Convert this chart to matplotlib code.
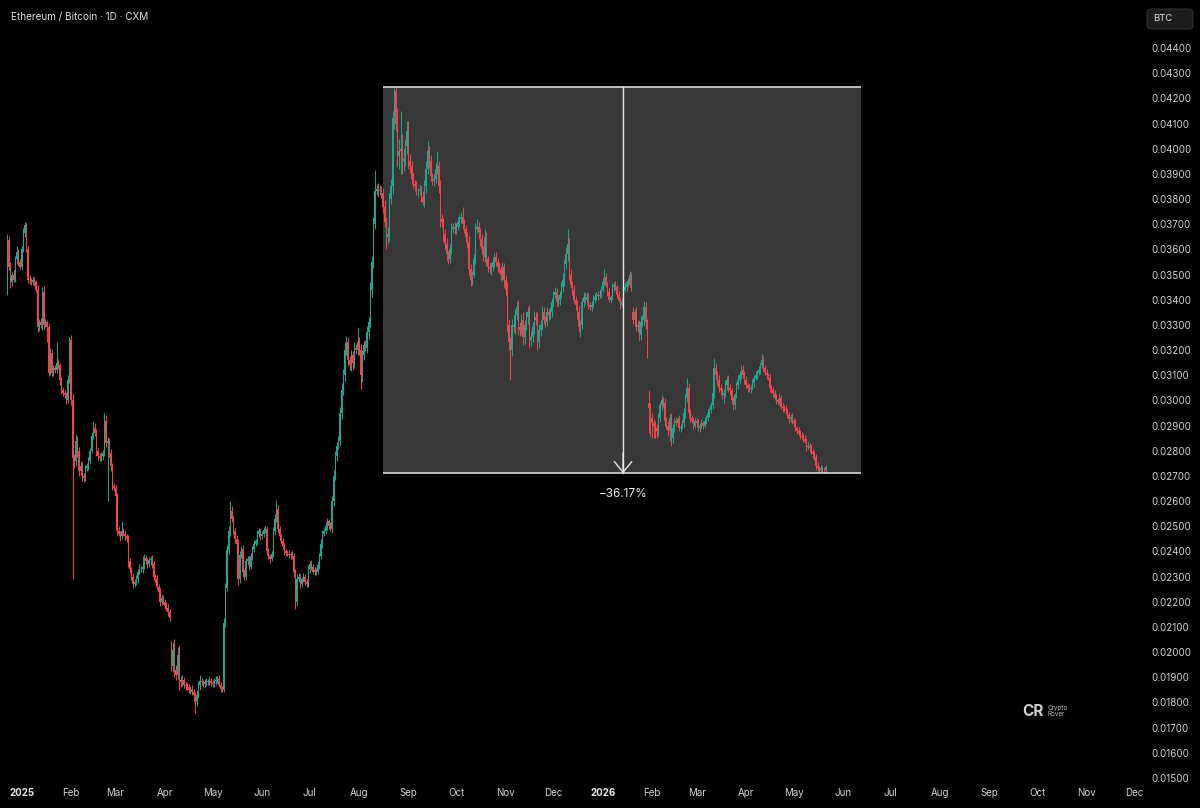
import datetime as dt
import numpy as np
import matplotlib
matplotlib.use("Agg")
import matplotlib.pyplot as plt
import matplotlib.dates as mdates
from matplotlib.patches import Rectangle, FancyBboxPatch, FancyArrowPatch

# ---------------- DATA (prices in units of 0.00001 BTC) ----------------
start_date = dt.date(2024, 12, 23)
first_open = 3430
gap_opens = {dt.date(2025, 4, 5): 2035, dt.date(2026, 1, 20): 3350, dt.date(2026, 1, 30): 2990}

close_2024_12 = [3637, 3530, 3470, 3500, 3480, 3560, 3590, 3550, 3530]
upw_2024_12 = [23, 15, 20, 12, 18, 15, 25, 10, 12]
low_2024_12 = [10, 12, 25, 15, 10, 8, 20, 15, 10]

close_2025_01 = [3600, 3665, 3697, 3600, 3480, 3478, 3470, 3480, 3470, 3440, 3290, 3310, 3300, 3430, 3300, 3310,
                 3290, 3110, 3190, 3110, 3130, 3120, 3150, 3140, 3080, 3040, 3030, 3020, 3000, 3080, 3240]
upw_2025_01 = [15, 20, 10, 8, 15, 20, 10, 15, 12, 10, 20, 15, 18, 20, 25, 15, 10, 15, 20, 15, 10, 12, 80, 15, 10,
               12, 15, 10, 15, 20, 10]
low_2025_01 = [12, 10, 15, 10, 12, 15, 10, 12, 15, 10, 20, 15, 12, 20, 15, 10, 60, 15, 10, 15, 12, 10, 12, 15, 20,
               15, 12, 10, 15, 12, 10]

close_2025_02 = [3000, 2770, 2760, 2840, 2800, 2720, 2740, 2700, 2690, 2730, 2740, 2760, 2800, 2860, 2890, 2870,
                 2800, 2780, 2770, 2780, 2790, 2920, 2830, 2840, 2790, 2740, 2660, 2650]
upw_2025_02 = [20, 30, 15, 25, 20, 15, 20, 15, 10, 15, 12, 15, 10, 15, 30, 20, 15, 12, 10, 15, 12, 30, 20, 15, 10,
               15, 12, 10]
low_2025_02 = [20, 480, 30, 20, 25, 20, 15, 20, 15, 12, 10, 15, 12, 10, 15, 12, 20, 15, 12, 10, 15, 12, 15, 230,
               15, 20, 15, 12]

close_2025_03 = [2620, 2480, 2470, 2460, 2480, 2470, 2460, 2450, 2360, 2330, 2300, 2270, 2280, 2290, 2320, 2330,
                 2330, 2340, 2375, 2360, 2350, 2365, 2370, 2350, 2300, 2290, 2258, 2240, 2200, 2215, 2200]
upw_2025_03 = [15, 12, 20, 10, 40, 12, 15, 10, 15, 12, 10, 15, 12, 15, 10, 20, 12, 40, 15, 10, 15, 12, 10, 15, 12,
               10, 15, 12, 15, 10, 12]
low_2025_03 = [12, 15, 10, 20, 12, 10, 15, 12, 20, 15, 12, 15, 10, 12, 15, 10, 12, 15, 10, 12, 15, 10, 20, 15, 12,
               15, 10, 12, 15, 12, 10]

close_2025_04 = [2185, 2175, 2160, 2135, 1945, 2010, 1930, 1910, 1990, 1890, 1880, 1890, 1870, 1865, 1860, 1850,
                 1855, 1840, 1830, 1800, 1830, 1870, 1885, 1880, 1875, 1880, 1885, 1880, 1885, 1878]
upw_2025_04 = [10, 12, 15, 10, 10, 30, 40, 20, 30, 40, 15, 20, 12, 10, 15, 12, 10, 15, 12, 10, 20, 15, 25, 12, 10,
               15, 12, 10, 15, 12]
low_2025_04 = [12, 10, 15, 12, 20, 25, 30, 20, 15, 40, 20, 15, 12, 15, 10, 12, 15, 10, 12, 42, 15, 12, 20, 10, 12,
               15, 10, 12, 10, 12]

close_2025_05 = [1872, 1885, 1890, 1895, 1870, 1855, 1850, 2115, 2255, 2405, 2480, 2560, 2530, 2480, 2450, 2430,
                 2290, 2385, 2410, 2320, 2300, 2360, 2370, 2340, 2380, 2410, 2430, 2440, 2470, 2480, 2460]
upw_2025_05 = [10, 12, 15, 10, 12, 10, 12, 20, 20, 20, 20, 40, 20, 15, 12, 15, 20, 15, 12, 15, 12, 15, 12, 10, 15,
               12, 15, 10, 15, 12, 10]
low_2025_05 = [12, 10, 15, 12, 10, 15, 10, 10, 15, 12, 15, 20, 15, 12, 15, 20, 25, 15, 12, 20, 15, 12, 15, 12, 10,
               15, 12, 10, 15, 12, 15]

close_2025_06 = [2470, 2485, 2490, 2400, 2380, 2370, 2390, 2480, 2530, 2570, 2490, 2460, 2440, 2420, 2400, 2395,
                 2390, 2385, 2390, 2380, 2320, 2200, 2290, 2300, 2270, 2290, 2300, 2280, 2270, 2330]
upw_2025_06 = [12, 10, 15, 12, 15, 10, 12, 15, 20, 35, 15, 12, 10, 15, 12, 10, 12, 15, 10, 12, 15, 12, 20, 15, 12,
               10, 15, 12, 10, 15]
low_2025_06 = [10, 12, 10, 15, 12, 15, 10, 12, 15, 12, 15, 10, 12, 10, 15, 12, 10, 12, 15, 10, 20, 30, 15, 12, 15,
               10, 12, 15, 12, 10]

close_2025_07 = [2350, 2340, 2320, 2325, 2320, 2345, 2380, 2430, 2470, 2480, 2500, 2520, 2500, 2490, 2600, 2700,
                 2780, 2820, 2840, 2950, 3040, 3100, 3200, 3230, 3160, 3140, 3180, 3150, 3210, 3200, 3230]
upw_2025_07 = [12, 15, 10, 12, 10, 15, 12, 20, 15, 12, 15, 12, 10, 15, 20, 25, 20, 15, 20, 25, 30, 25, 30, 25, 20,
               15, 20, 15, 20, 15, 58]
low_2025_07 = [15, 12, 10, 15, 12, 10, 15, 12, 15, 10, 12, 15, 12, 10, 15, 20, 15, 20, 15, 20, 25, 20, 25, 20, 25,
               20, 25, 30, 20, 15, 20]

close_2025_08 = [3200, 3100, 3180, 3220, 3210, 3270, 3310, 3440, 3550, 3700, 3830, 3840, 3830, 3835, 3825, 3770,
                 3710, 3650, 3660, 3800, 3850, 4120, 4230, 4100, 3970, 3990, 4000, 3950, 3960, 4010, 4070]
upw_2025_08 = [20, 25, 20, 15, 20, 25, 20, 30, 25, 30, 85, 20, 25, 20, 15, 20, 25, 20, 30, 25, 30, 30, 10, 15, 60,
               50, 150, 60, 40, 30, 40]
low_2025_08 = [20, 60, 25, 20, 15, 20, 25, 20, 30, 25, 20, 15, 20, 15, 20, 25, 20, 50, 30, 25, 20, 30, 40, 30, 40,
               50, 90, 50, 40, 30, 30]

close_2025_09 = [3950, 3930, 3880, 3860, 3850, 3830, 3830, 3835, 3810, 3790, 3850, 3920, 3990, 3950, 3890, 3870,
                 3880, 3920, 3930, 3850, 3720, 3710, 3660, 3620, 3580, 3560, 3600, 3680, 3690, 3680]
upw_2025_09 = [40, 30, 20, 25, 15, 20, 15, 20, 15, 20, 25, 30, 40, 20, 25, 15, 20, 25, 60, 20, 25, 20, 15, 20, 25,
               15, 20, 25, 15, 20]
low_2025_09 = [30, 25, 20, 15, 20, 15, 20, 15, 20, 15, 20, 25, 20, 25, 20, 15, 20, 15, 20, 25, 30, 20, 25, 20, 25,
               20, 15, 20, 15, 20]

close_2025_10 = [3690, 3710, 3720, 3730, 3700, 3680, 3650, 3630, 3520, 3480, 3500, 3560, 3680, 3690, 3670, 3640,
                 3600, 3570, 3650, 3560, 3530, 3520, 3530, 3550, 3570, 3550, 3530, 3520, 3500, 3530, 3480]
upw_2025_10 = [15, 20, 15, 20, 40, 20, 15, 20, 25, 20, 15, 20, 25, 30, 20, 15, 20, 15, 30, 20, 15, 20, 15, 20, 15,
               20, 15, 20, 15, 20, 15]
low_2025_10 = [20, 15, 20, 15, 20, 15, 20, 25, 20, 25, 20, 15, 20, 15, 20, 25, 20, 15, 20, 25, 20, 15, 20, 15, 20,
               15, 20, 15, 20, 25, 30]

close_2025_11 = [3440, 3300, 3230, 3200, 3300, 3290, 3340, 3370, 3290, 3280, 3320, 3250, 3300, 3330, 3350, 3240,
                 3250, 3290, 3330, 3320, 3230, 3280, 3300, 3350, 3320, 3310, 3350, 3340, 3350, 3390]
upw_2025_11 = [20, 30, 25, 20, 25, 20, 25, 20, 30, 20, 25, 30, 20, 25, 20, 30, 25, 20, 25, 20, 30, 25, 20, 25, 20,
               15, 20, 15, 20, 15]
low_2025_11 = [25, 30, 30, 120, 25, 20, 25, 20, 30, 25, 20, 30, 25, 20, 25, 30, 25, 20, 25, 20, 30, 20, 25, 20, 15,
               20, 15, 20, 15, 20]

close_2025_12 = [3420, 3430, 3390, 3400, 3420, 3450, 3480, 3540, 3580, 3620, 3500, 3460, 3440, 3400, 3380, 3350,
                 3290, 3300, 3390, 3410, 3400, 3410, 3380, 3370, 3380, 3400, 3410, 3420, 3415, 3420, 3440]
upw_2025_12 = [15, 20, 15, 20, 15, 20, 25, 20, 30, 60, 25, 20, 15, 20, 15, 20, 25, 20, 15, 20, 15, 20, 15, 10, 15,
               20, 15, 10, 15, 10, 15]
low_2025_12 = [20, 15, 20, 15, 20, 15, 20, 25, 20, 25, 20, 15, 20, 15, 20, 25, 20, 40, 15, 20, 15, 20, 15, 10, 15,
               10, 15, 10, 15, 10, 15]

close_2026_01 = [3470, 3490, 3460, 3430, 3400, 3410, 3450, 3460, 3450, 3420, 3400, 3380, 3390, 3440, 3450, 3470,
                 3460, 3500, 3450, 3320, 3350, 3290, 3300, 3260, 3310, 3320, 3370, 3310, 3190, 2970, 2930]
upw_2026_01 = [15, 30, 15, 10, 15, 10, 15, 10, 15, 10, 15, 10, 15, 20, 15, 10, 15, 15, 10, 20, 15, 20, 15, 20, 25,
               20, 25, 20, 15, 50, 20]
low_2026_01 = [10, 15, 10, 15, 10, 15, 10, 15, 10, 15, 10, 15, 10, 15, 10, 15, 10, 10, 15, 15, 20, 15, 20, 25, 20,
               15, 20, 25, 20, 100, 70]

close_2026_02 = [2910, 2900, 2890, 2880, 2930, 2980, 3000, 2990, 2920, 2900, 2880, 2930, 2850, 2890, 2920, 2910,
                 2925, 2890, 2895, 2910, 2950, 3010, 3050, 2950, 2930, 2920, 2900, 2920]
upw_2026_02 = [20, 15, 20, 15, 20, 15, 20, 15, 20, 15, 20, 15, 20, 15, 10, 15, 10, 15, 10, 15, 20, 15, 40, 20, 15,
               10, 15, 10]
low_2026_02 = [60, 50, 40, 30, 20, 15, 20, 15, 20, 15, 20, 40, 30, 20, 15, 10, 15, 10, 15, 10, 15, 20, 15, 20, 15,
               10, 15, 10]

close_2026_03 = [2910, 2890, 2900, 2910, 2900, 2920, 2930, 2950, 2960, 2980, 3030, 3130, 3100, 3080, 3050, 3040,
                 3020, 3030, 3060, 3080, 3050, 3040, 3000, 2980, 3020, 3060, 3080, 3100, 3120, 3100, 3080]
upw_2026_03 = [10, 15, 10, 15, 10, 15, 10, 15, 10, 15, 20, 40, 20, 15, 20, 15, 10, 15, 20, 15, 20, 15, 10, 15, 10,
               15, 20, 15, 20, 20, 15]
low_2026_03 = [15, 10, 15, 10, 15, 10, 15, 10, 15, 10, 15, 20, 15, 20, 15, 20, 15, 30, 15, 20, 15, 20, 15, 20, 15,
               10, 15, 10, 15, 10, 15]

close_2026_04 = [3060, 3050, 3045, 3050, 3070, 3090, 3100, 3110, 3120, 3140, 3160, 3130, 3110, 3100, 3090, 3050,
                 3040, 3030, 3010, 3000, 2995, 3010, 2975, 2970, 2965, 2960, 2940, 2925, 2935, 2920]
upw_2026_04 = [15, 10, 15, 10, 15, 10, 15, 10, 15, 10, 30, 15, 10, 15, 10, 15, 10, 15, 10, 15, 10, 15, 10, 15, 10,
               15, 10, 15, 10, 15]
low_2026_04 = [10, 15, 10, 15, 10, 15, 10, 15, 10, 15, 10, 15, 10, 15, 10, 15, 10, 15, 10, 15, 10, 15, 10, 15, 10,
               15, 10, 15, 10, 15]

close_2026_05 = [2910, 2890, 2880, 2872, 2860, 2855, 2848, 2840, 2815, 2820, 2810, 2795, 2785, 2775, 2740, 2730,
                 2725, 2730, 2725, 2723, 2735]
upw_2026_05 = [10, 15, 10, 15, 10, 15, 10, 15, 10, 15, 10, 15, 10, 15, 10, 15, 10, 15, 10, 12, 10]
low_2026_05 = [15, 10, 15, 10, 15, 10, 15, 10, 15, 10, 15, 10, 15, 10, 15, 10, 10, 8, 10, 10, 12]

price_ticks = [0.015, 0.016, 0.017, 0.018, 0.019, 0.020, 0.021, 0.022, 0.023, 0.024, 0.025, 0.026, 0.027, 0.028,
               0.029, 0.030, 0.031, 0.032, 0.033, 0.034, 0.035, 0.036, 0.037, 0.038, 0.039, 0.040, 0.041, 0.042,
               0.043, 0.044]
month_labels = ["2025", "Feb", "Mar", "Apr", "May", "Jun", "Jul", "Aug", "Sep", "Oct", "Nov", "Dec",
                "2026", "Feb", "Mar", "Apr", "May", "Jun", "Jul", "Aug", "Sep", "Oct", "Nov", "Dec"]

# measure tool (price range drawing)
range_top = 0.04245
range_bottom = 0.02710
range_label = "\u221236.17%"

# ---------------- BUILD OHLC ----------------
closes_all = (close_2024_12 + close_2025_01 + close_2025_02 + close_2025_03 + close_2025_04 + close_2025_05 +
              close_2025_06 + close_2025_07 + close_2025_08 + close_2025_09 + close_2025_10 + close_2025_11 +
              close_2025_12 + close_2026_01 + close_2026_02 + close_2026_03 + close_2026_04 + close_2026_05)
upw_all = (upw_2024_12 + upw_2025_01 + upw_2025_02 + upw_2025_03 + upw_2025_04 + upw_2025_05 + upw_2025_06 +
           upw_2025_07 + upw_2025_08 + upw_2025_09 + upw_2025_10 + upw_2025_11 + upw_2025_12 + upw_2026_01 +
           upw_2026_02 + upw_2026_03 + upw_2026_04 + upw_2026_05)
low_all = (low_2024_12 + low_2025_01 + low_2025_02 + low_2025_03 + low_2025_04 + low_2025_05 + low_2025_06 +
           low_2025_07 + low_2025_08 + low_2025_09 + low_2025_10 + low_2025_11 + low_2025_12 + low_2026_01 +
           low_2026_02 + low_2026_03 + low_2026_04 + low_2026_05)
n = len(closes_all)
assert len(upw_all) == n and len(low_all) == n, (n, len(upw_all), len(low_all))

dates = [start_date + dt.timedelta(days=i) for i in range(n)]
opens = []
prev = first_open
for d, cl in zip(dates, closes_all):
    opens.append(gap_opens.get(d, prev))
    prev = cl
o = np.array(opens) / 1e5
c = np.array(closes_all) / 1e5
hi = np.maximum(o, c) + np.array(upw_all) / 1e5
lo = np.minimum(o, c) - np.array(low_all) / 1e5
x = mdates.date2num(dates)

GREEN = "#1fa88f"
RED = "#f4434f"
cols = [GREEN if cc >= oo else RED for oo, cc in zip(o, c)]

# ---------------- FIGURE ----------------
W, H = 1200, 808
fig = plt.figure(figsize=(12, 8.08), dpi=100, facecolor="black")
ax = fig.add_axes([0, 28 / H, 1140 / W, 780 / H])
ax.set_facecolor("black")
for s in ax.spines.values():
    s.set_visible(False)

jan1 = mdates.date2num(dt.date(2025, 1, 1))
ax.set_xlim(jan1 - 13.57, jan1 + 702.5)
ax.set_ylim(0.014918, 0.045907)

# price-range box
bx0 = mdates.date2num(dt.date(2025, 8, 16))
bx1 = mdates.date2num(dt.date(2026, 6, 12))
ax.add_patch(Rectangle((bx0, range_bottom), bx1 - bx0, range_top - range_bottom,
                       facecolor="#383838", edgecolor="none", zorder=1))

# candles
ax.vlines(x, lo, hi, colors=cols, linewidth=0.7, zorder=3)
body_h = np.maximum(np.abs(c - o), 0.00002)
ax.bar(x, body_h, bottom=np.minimum(o, c), width=0.8, color=cols, linewidth=0, zorder=4)

# box borders and arrow
ax.hlines([range_top, range_bottom], bx0, bx1, colors="#e6e6e6", linewidth=1.1, zorder=5)
ax_x = mdates.date2num(dt.date(2026, 1, 13)) + 0.8
ax.plot([ax_x, ax_x], [range_top, range_bottom], color="#e6e6e6", linewidth=1.0, zorder=5)
arr = FancyArrowPatch((ax_x, range_bottom + 0.0008), (ax_x, range_bottom),
                      arrowstyle="->,head_length=0.55,head_width=0.45", mutation_scale=14,
                      color="#e6e6e6", linewidth=1.0, zorder=6, shrinkA=0, shrinkB=0)
ax.add_patch(arr)
ax.text(ax_x, range_bottom - 0.00083, range_label, color="#e8e8e8", fontsize=8.5,
        ha="center", va="center", family=["Inter", "DejaVu Sans"], zorder=6)

# axes ticks
ax.yaxis.tick_right()
ax.set_yticks(price_ticks)
ax.set_yticklabels([f"{v:.5f}" for v in price_ticks])
ax.tick_params(axis="y", length=0, pad=8, labelsize=7, labelcolor="#d2d2d2")
month_starts = [mdates.date2num(dt.date(2025 + (i // 12), i % 12 + 1, 1)) for i in range(24)]
ax.set_xticks(month_starts)
ax.set_xticklabels(month_labels)
ax.tick_params(axis="x", length=0, pad=6, labelsize=7, labelcolor="#d2d2d2")
for lbl in ax.get_xticklabels() + ax.get_yticklabels():
    lbl.set_family(["Inter", "DejaVu Sans"])
for lbl in ax.get_xticklabels():
    if lbl.get_text() in ("2025", "2026"):
        lbl.set_fontweight("bold")
        lbl.set_color("#e6e6e6")

# title
fig.text(11 / W, 1 - 17 / H, "Ethereum / Bitcoin \u00b7 1D \u00b7 CXM", color="#dcdcdc", fontsize=7.2,
         ha="left", va="center", family=["Inter", "DejaVu Sans"])

# BTC currency box
fig.patches.append(FancyBboxPatch((1147 / W, 1 - 29 / H), 46 / W, 20 / H,
                                  boxstyle="round,pad=0,rounding_size=0.004",
                                  transform=fig.transFigure, facecolor="#1c1c1c",
                                  edgecolor="#2e2e2e", linewidth=0.8))
fig.text(1153 / W, 1 - 18.5 / H, "BTC", color="#e0e0e0", fontsize=6.8, ha="left", va="center",
         family=["Inter", "DejaVu Sans"])

# watermark logo
fig.text(1033 / W, 1 - 711 / H, "CR", color="#cfcfcf", fontsize=11, fontweight="bold",
         ha="center", va="center", family=["Inter", "DejaVu Sans"])
fig.text(1048 / W, 1 - 711 / H, "Crypto\nRover", color="#bdbdbd", fontsize=4.5, linespacing=1.1,
         ha="left", va="center", family=["Inter", "DejaVu Sans"])

fig.savefig("out.png", dpi=100, facecolor="black")
